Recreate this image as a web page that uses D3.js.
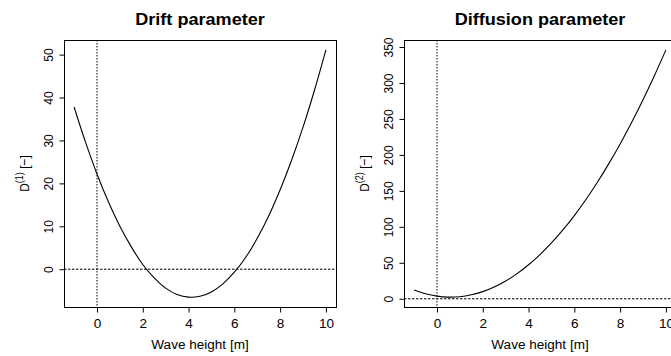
<!DOCTYPE html>
<html>
<head>
<meta charset="utf-8">
<script src="https://cdn.jsdelivr.net/npm/d3@7"></script>
<style>
  html, body { margin: 0; padding: 0; background: #fff; }
  svg { display: block; font-family: "Liberation Sans", Arial, Helvetica, sans-serif; }
</style>
</head>
<body>
<svg id="chart" width="671" height="356"></svg>
<script>
// Wave height grid [m]
const waveHeight = [-1, -0.5, 0, 0.5, 1, 1.5, 2, 2.5, 3, 3.5, 4, 4.5, 5, 5.5, 6, 6.5, 7, 7.5, 8, 8.5, 9, 9.5, 10];

// Estimated drift coefficient D(1)
const drift = [37.8, 29.6, 22.2, 15.7, 10.0, 5.2, 1.1, -2.0, -4.4, -5.9, -6.5, -6.3, -5.3, -3.4, -0.7, 2.8, 7.2, 12.4, 18.5, 25.4, 33.1, 41.7, 51.1];

// Estimated diffusion coefficient D(2)
const diffusion = [12.3, 7.0, 3.7, 2.3, 2.9, 5.5, 9.9, 16.3, 24.7, 35.0, 47.3, 61.5, 77.6, 95.7, 115.7, 137.7, 161.6, 187.5, 215.3, 245.1, 276.8, 310.4, 346.0];

// Tick labels
const xTicks = [0, 2, 4, 6, 8, 10];
const driftTicks = [0, 10, 20, 30, 40, 50];
const diffusionTicks = [0, 50, 100, 150, 200, 250, 300, 350];

const titles = ["Drift parameter", "Diffusion parameter"];
const xLabel = "Wave height [m]";

// glyphs are drawn slightly wide
const SX = 1.13;

const svg = d3.select("#chart");

// Extend a numeric range by 4% on each side (classic plot axis style)
function padded(ext) {
  const d = (ext[1] - ext[0]) * 0.04;
  return [ext[0] - d, ext[1] + d];
}

function panel(opts) {
  const { left, right, top, bottom, values, yTicks, title, supText } = opts;
  const g = svg.append("g");

  const x = d3.scaleLinear().domain(padded(d3.extent(waveHeight))).range([left, right]);
  const y = d3.scaleLinear().domain(padded(d3.extent(values))).range([bottom, top]);

  // reference lines at zero
  g.append("line")
    .attr("x1", left).attr("x2", right)
    .attr("y1", y(0)).attr("y2", y(0))
    .attr("stroke", "#000").attr("stroke-width", 1)
    .attr("stroke-dasharray", "2.5,1.5");
  g.append("line")
    .attr("x1", x(0)).attr("x2", x(0))
    .attr("y1", top).attr("y2", bottom)
    .attr("stroke", "#000").attr("stroke-width", 1)
    .attr("stroke-dasharray", "1.5,1.5");

  // curve
  const line = d3.line()
    .x((d, i) => x(waveHeight[i]))
    .y(d => y(d))
    .curve(d3.curveCatmullRom.alpha(0.5));
  g.append("path")
    .datum(values)
    .attr("d", line)
    .attr("fill", "none")
    .attr("stroke", "#000")
    .attr("stroke-width", 1.1);

  // frame
  g.append("rect")
    .attr("x", left + 0.5).attr("y", top + 0.5)
    .attr("width", right - left).attr("height", bottom - top)
    .attr("fill", "none").attr("stroke", "#000").attr("stroke-width", 1);

  // x axis
  const xa = g.append("g")
    .attr("transform", `translate(0,${bottom + 0.5})`)
    .call(d3.axisBottom(x).tickValues(xTicks).tickSize(5).tickSizeOuter(0).tickFormat(d3.format("d")));
  xa.select(".domain").remove();
  xa.selectAll(".tick line").attr("stroke", "#000");
  xa.selectAll(".tick text")
    .attr("x", 0).attr("y", 0).attr("dy", 0)
    .attr("transform", `translate(0,20.5) scale(${SX},1)`)
    .attr("font-size", 12).attr("fill", "#000")
    .attr("font-family", "Liberation Sans, Arial, sans-serif");

  // y axis
  const ya = g.append("g")
    .attr("transform", `translate(${left + 0.5},0)`)
    .call(d3.axisLeft(y).tickValues(yTicks).tickSize(5).tickSizeOuter(0).tickFormat(d3.format("d")));
  ya.select(".domain").remove();
  ya.selectAll(".tick line").attr("stroke", "#000");
  ya.selectAll(".tick text")
    .attr("x", 0).attr("y", 0).attr("dy", 0)
    .attr("transform", `translate(-12,0) scale(${SX},1) rotate(-90)`)
    .attr("text-anchor", "middle")
    .attr("font-size", 12).attr("fill", "#000")
    .attr("font-family", "Liberation Sans, Arial, sans-serif");

  // title
  g.append("text")
    .attr("transform", `translate(${(left + right) / 2},25) scale(${SX},1)`)
    .attr("text-anchor", "middle")
    .attr("font-weight", "bold").attr("font-size", 16)
    .text(title);

  // x label
  g.append("text")
    .attr("transform", `translate(${(left + right) / 2},349) scale(${SX},1)`)
    .attr("text-anchor", "middle")
    .attr("font-size", 12)
    .text(xLabel);

  // y label with superscript
  const yl = g.append("text")
    .attr("transform", `translate(${left - 35},${(top + bottom) / 2}) scale(${SX},1) rotate(-90)`)
    .attr("text-anchor", "middle")
    .attr("font-size", 12);
  yl.append("tspan").text("D");
  yl.append("tspan").attr("dy", -5).attr("font-size", 9).text(supText);
  yl.append("tspan").attr("dy", 5).text(" [\u2212]");
}

panel({ left: 64, right: 336, top: 40, bottom: 307, values: drift, yTicks: driftTicks, title: titles[0], supText: "(1)" });
panel({ left: 404, right: 676, top: 40, bottom: 307, values: diffusion, yTicks: diffusionTicks, title: titles[1], supText: "(2)" });
</script>
</body>
</html>
